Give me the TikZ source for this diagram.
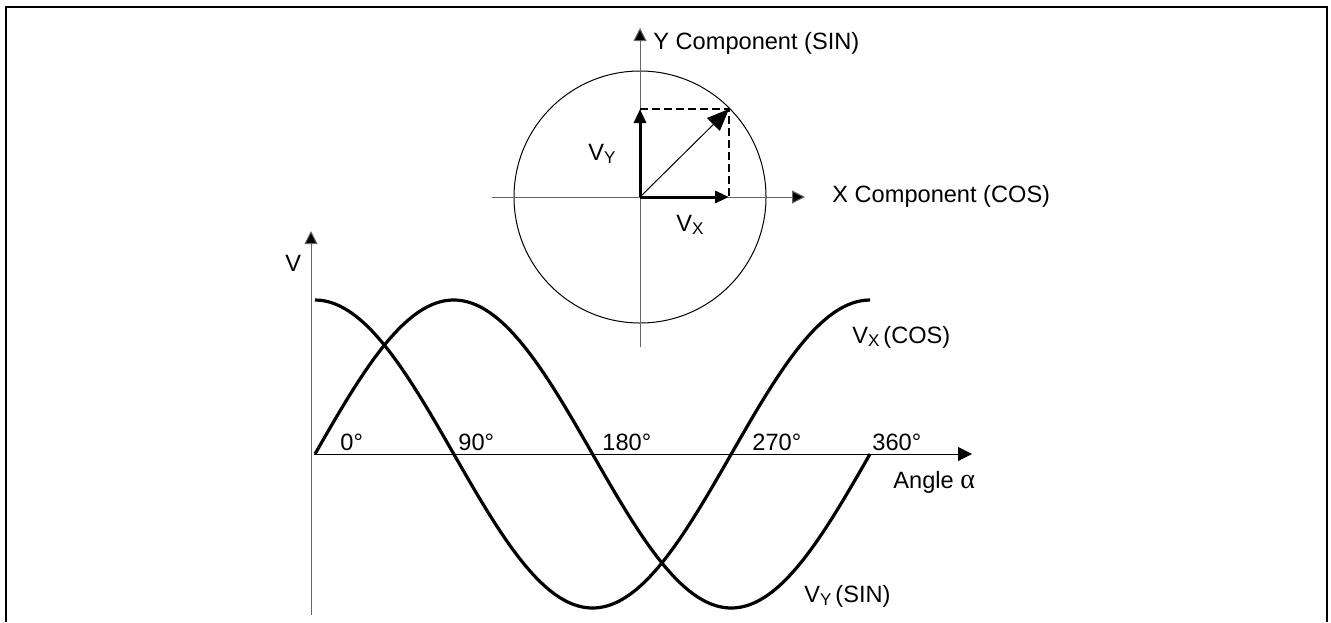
\documentclass[tikz,border=0pt]{standalone}
\usepackage{fontspec}
\setmainfont{Liberation Sans}
\newfontfamily\griego{Liberation Serif}
\usetikzlibrary{arrows.meta}

\newcommand{\subind}[1]{\raisebox{-1.6pt}{\fontsize{8.5}{9}\selectfont #1}}

\begin{document}
\begin{tikzpicture}[
    x=0.5pt,
    y=-0.5pt,
    eje/.style={draw=black!60, line width=0.5pt, -{Triangle[length=6.5pt, width=6.5pt, fill=black]}},
    ejeang/.style={draw, line width=0.5pt, -{Triangle[length=7pt, width=7pt]}},
    vector/.style={draw, line width=1.5pt, -{Triangle[length=7pt, width=6pt]}},
    resultante/.style={draw, line width=0.5pt, -{Triangle[length=11pt, width=9pt]}},
    proy/.style={draw, line width=1pt, dash pattern=on 4pt off 2pt},
    curva/.style={draw, line width=1.6pt},
    etiqueta/.style={font=\fontsize{11.8}{13}\selectfont, anchor=base west, inner sep=0pt}
]

% Marco
\useasboundingbox (0,0) rectangle (1331,622);
\draw[line width=1pt] (6,622) -- (6,7) -- (1327,7) -- (1327,622);

% Circulo con los ejes X / Y
\coordinate (O) at (640,197);
\coordinate (P) at (729,109);
\coordinate (py) at (640,109);
\coordinate (px) at (729,197);
\coordinate (ybot) at (640,347);
\coordinate (ytop) at (640,28);
\coordinate (xizq) at (492,197);
\coordinate (xder) at (805,197);

\draw[line width=0.5pt] (O) circle[radius=126];
\draw[eje] (ybot) -- (ytop);
\draw[eje] (xizq) -- (xder);
\draw[proy] (py) -- (P) -- (px);
\draw[vector] (O) -- (py);
\draw[vector] (O) -- (px);
\draw[resultante] (O) -- (P);

\node[etiqueta] (ycomp) at (653,49) {Y Component (SIN)};
\node[etiqueta] (xcomp) at (832,202) {X Component (COS)};
\node[etiqueta] (lvy) at (588,160) {V\subind{Y}};
\node[etiqueta] (lvx) at (676,231) {V\subind{X}};

% Ejes V / angulo
\coordinate (vbot) at (311,615);
\coordinate (vtop) at (311,231);
\coordinate (a0) at (314,454);
\coordinate (afin) at (972,454);

\draw[eje] (vbot) -- (vtop);
\draw[ejeang] (a0) -- (afin);

% Curvas seno / coseno
\draw[curva] plot[domain=0:360, samples=91, smooth] ({315+\x*1.5417}, {454-154*cos(\x)});
\draw[curva] plot[domain=0:360, samples=91, smooth] ({315+\x*1.5417}, {454-154*sin(\x)});

% Grados sobre el eje
\foreach \ang/\pos [count=\i] in {0/340, 90/458, 180/602, 270/752, 360/872}
    \node[etiqueta] (g\i) at (\pos,450) {\ang°};

\node[etiqueta] (lv) at (285,271) {V};
\node[etiqueta] (lang) at (893,488) {Angle {\griego\fontsize{14}{14}\selectfont α}};
\node[etiqueta] (lcos) at (852,343) {V\subind{X}\,(COS)};
\node[etiqueta] (lsin) at (804,602) {V\subind{Y}\,(SIN)};

\end{tikzpicture}
\end{document}
